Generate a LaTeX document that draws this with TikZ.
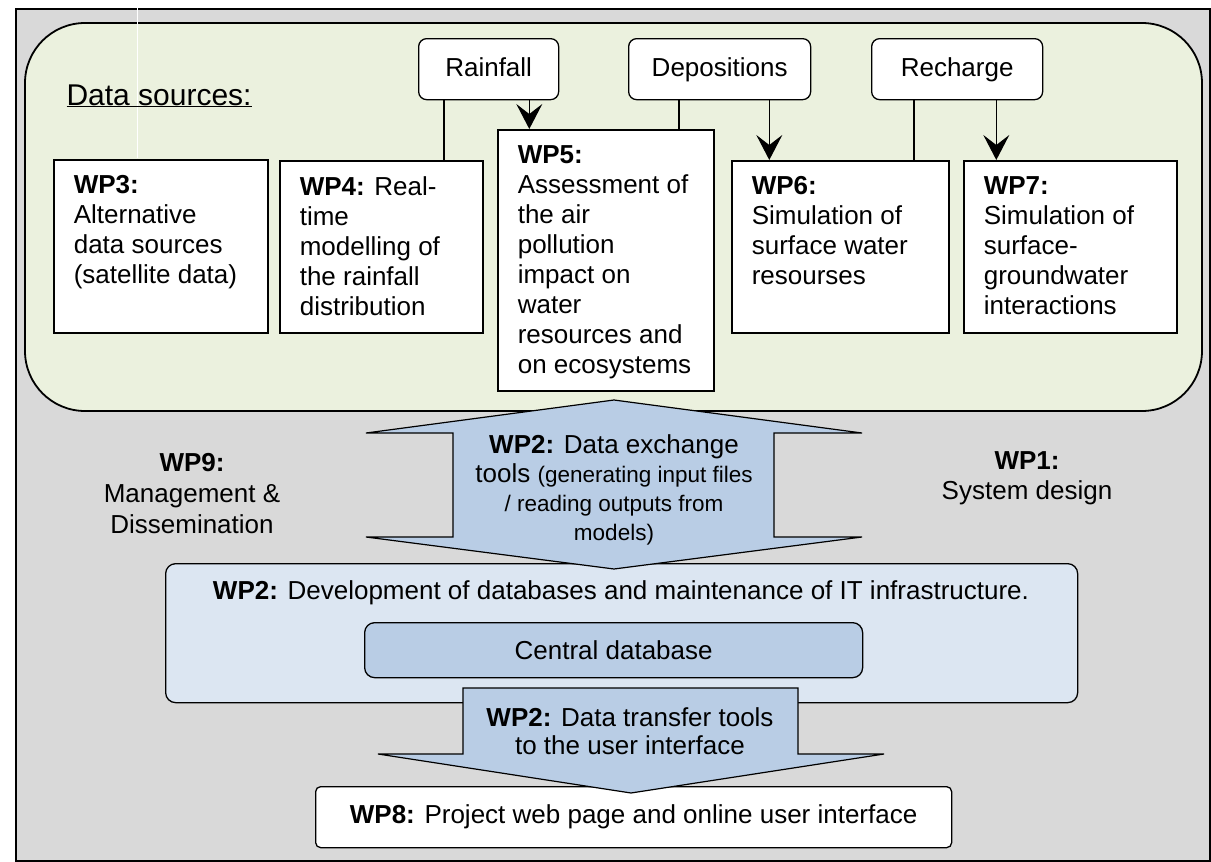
\documentclass[tikz,border=0pt]{standalone}
\usepackage{fontspec}
\setmainfont{Liberation Sans}
\usetikzlibrary{positioning,calc,arrows.meta}
\definecolor{bggray}{HTML}{D9D9D9}
\definecolor{srcgreen}{HTML}{EBF1DE}
\definecolor{wpblue}{HTML}{B9CDE5}
\definecolor{dbblue}{HTML}{DCE6F2}
\newcommand{\wpbody}[3]{\parbox[c][#2][t]{#1}{\raggedright\leftskip=20pt\relax\vspace*{16pt}#3}}

\begin{document}
\begin{tikzpicture}[x=1pt, y=-1pt, font=\fontsize{26}{30}\selectfont,
  wp/.style={draw, fill=white, line width=1.6pt, inner sep=0pt, anchor=north west},
  src/.style={draw, fill=white, line width=1.3pt, rounded corners=8pt, anchor=north west,
    minimum height=61pt, inner sep=0pt, text height=19pt, text depth=5pt},
  tie/.style={line width=1.3pt},
  feed/.style={line width=1.3pt, -{Stealth[length=25pt, width=26pt, inset=10pt]}},
  fat/.style={draw, fill=wpblue, line width=1.2pt}]
  \useasboundingbox (0,0) rectangle (1211,862);
  % ---- frame and data sources panel ----
  \draw[fill=bggray, line width=1.8pt] (16,9) rectangle (1210,861);
  \draw[fill=srcgreen, line width=1.8pt, rounded corners=60pt] (25,23) rectangle (1202,411);
  \draw[white, line width=0.8pt] (137,0) -- (137,158);
  \node[anchor=base west, font=\fontsize{30}{34}\selectfont] (dsrc) at (63,105) {\underline{Data sources:}};
  \node[src, minimum width=140pt] (rain) at (418,38) {Rainfall};
  \node[src, minimum width=182pt] (depo) at (628,38) {Depositions};
  \node[src, minimum width=171pt] (rech) at (871,38) {Recharge};
  \node[wp] (wp3) at (53,159) {\wpbody{214pt}{173pt}{\textbf{WP3:}\\Alternative\\data sources\\(satellite data)}};
  \node[wp] (wp4) at (279,160) {\wpbody{203pt}{172pt}{\textbf{WP4:} Real-\\time\\modelling of\\the rainfall\\distribution}};
  \node[wp] (wp5) at (497,129) {\wpbody{216pt}{261pt}{\textbf{WP5:}\\Assessment of\\the air\\pollution\\impact on\\water\\resources and\\on ecosystems}};
  \node[wp] (wp6) at (731,160) {\wpbody{217pt}{172pt}{\textbf{WP6:}\\Simulation of\\surface water\\resourses}};
  \node[wp] (wp7) at (963,160) {\wpbody{213pt}{172pt}{\textbf{WP7:}\\Simulation of\\surface-\\groundwater\\interactions}};
  \foreach \s/\a/\b/\l/\r in {rain/wp4/wp5/26/30, depo/wp5/wp6/51/42, rech/wp6/wp7/43/47}{
    \draw[tie] ([xshift=\l pt]\s.south west) coordinate (\s1) -- (\s1 |- \a.north);
    \draw[feed] ([xshift=-\r pt]\s.south east) coordinate (\s2) -- (\s2 |- \b.north);}
  % ---- side work packages ----
  \node[align=center, font=\fontsize{26}{31}\selectfont] (wp9) at (192,494) {\textbf{WP9:}\\Management \&\\Dissemination};
  \node[align=center] (wp1) at (1027,478) {\textbf{WP1:}\\System design};
  % ---- database layer ----
  \node[draw, fill=dbblue, line width=1.3pt, rounded corners=10pt, anchor=north west,
    minimum width=912pt, minimum height=139pt] (wp2db) at (165,563) {};
  \node (dbtitle) at (621,593) {\textbf{WP2:} Development of databases and maintenance of IT infrastructure.};
  \node[draw, fill=wpblue, line width=1.3pt, rounded corners=10pt, anchor=north west,
    minimum width=498pt, minimum height=55pt] (cdb) at (364,622) {Central database};
  % ---- WP2 exchange arrow ----
  \draw[fat] (614,400) -- (862,433) -- (774,433) -- (774,537) -- (862,537) -- (614,569)
    -- (366,537) -- (453,537) -- (453,433) -- (366,433) -- cycle;
  \node[align=center, font=\fontsize{26}{29}\selectfont] (xchg) at (614,490)
    {\textbf{WP2:} Data exchange\\tools {\fontsize{22.5}{29}\selectfont(generating input files}\\
     {\fontsize{22.5}{29}\selectfont/ reading outputs from}\\{\fontsize{22.5}{29}\selectfont models)}};
  % ---- user interface ----
  \node[draw, fill=white, line width=1.3pt, rounded corners=5pt, anchor=north west,
    minimum width=636pt, minimum height=61pt] (wp8) at (315,786) {\textbf{WP8:} Project web page and online user interface};
  \draw[fat] (463,688) -- (798,688) -- (798,754) -- (884,754) -- (631,793) -- (378,754)
    -- (463,754) -- cycle;
  \node[align=center, font=\fontsize{26}{28}\selectfont] (xfer) at (630,731) {\textbf{WP2:} Data transfer tools\\to the user interface};
\end{tikzpicture}
\end{document}
